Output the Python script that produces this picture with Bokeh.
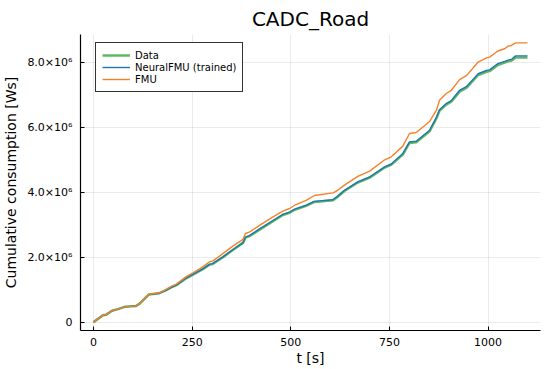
from bokeh.plotting import figure
from bokeh.models import Range1d, FixedTicker, CustomJSTickFormatter, Legend, LegendItem
from bokeh.embed import file_html
from bokeh.resources import INLINE

# time [s]
t = [0, 24, 32, 47, 62, 79, 108, 117, 140, 167, 183, 197, 210, 235, 252, 277, 294, 302,
     328, 353, 379, 385, 396, 421, 455, 480, 497, 510, 539, 560, 607, 619, 636, 670, 700,
     738, 755, 784, 801, 818, 852, 869, 877, 894, 907, 928, 946, 975, 996, 1004, 1025,
     1042, 1051, 1059, 1070, 1100]

# cumulative consumption in 1e6 Ws
fmu = [0, 0.21, 0.23, 0.35, 0.40, 0.47, 0.50, 0.575, 0.86, 0.90,
       1.00, 1.10, 1.17, 1.40, 1.52, 1.70, 1.86, 1.88, 2.11, 2.34,
       2.55, 2.73, 2.78, 2.98, 3.24, 3.42, 3.50, 3.60, 3.75, 3.90,
       3.98, 4.06, 4.22, 4.49, 4.65, 5.00, 5.09, 5.42, 5.81, 5.84,
       6.18, 6.52, 6.83, 7.04, 7.14, 7.47, 7.60, 8.01, 8.14, 8.16,
       8.35, 8.42, 8.50, 8.52, 8.60, 8.60]
neural = [0, 0.21, 0.23, 0.35, 0.40, 0.47, 0.50, 0.57, 0.85, 0.89,
          0.98, 1.07, 1.14, 1.36, 1.47, 1.64, 1.78, 1.80, 2.01, 2.23,
          2.45, 2.62, 2.67, 2.87, 3.13, 3.32, 3.39, 3.48, 3.60, 3.72,
          3.77, 3.88, 4.06, 4.32, 4.47, 4.78, 4.87, 5.19, 5.55, 5.57,
          5.91, 6.30, 6.54, 6.73, 6.82, 7.14, 7.26, 7.65, 7.75, 7.77,
          7.96, 8.03, 8.07, 8.09, 8.20, 8.20]
data = [0, 0.21, 0.23, 0.35, 0.40, 0.47, 0.50, 0.57, 0.85, 0.89,
        0.98, 1.07, 1.14, 1.35, 1.46, 1.63, 1.77, 1.79, 2.00, 2.22,
        2.44, 2.60, 2.65, 2.85, 3.11, 3.30, 3.37, 3.46, 3.58, 3.70,
        3.75, 3.86, 4.04, 4.30, 4.45, 4.76, 4.85, 5.16, 5.52, 5.54,
        5.88, 6.27, 6.51, 6.70, 6.79, 7.10, 7.22, 7.61, 7.71, 7.73,
        7.92, 7.99, 8.03, 8.05, 8.15, 8.15]

x_ticks = [0, 250, 500, 750, 1000]
y_ticks = [0, 2e6, 4e6, 6e6, 8e6]

scale = 1e6
fmu_w = [v * scale for v in fmu]
neural_w = [v * scale for v in neural]
data_w = [v * scale for v in data]

FONT = "DejaVu Sans"

p = figure(frame_width=460, frame_height=296, output_backend="svg", toolbar_location=None,
           x_range=Range1d(-33, 1133), y_range=Range1d(-0.258e6, 8.858e6),
           min_border_left=73, min_border_right=2, min_border_top=26, min_border_bottom=28)

p.title.text = "CADC_Road"
p.title.text_font = FONT
p.title.text_font_size = "20px"
p.title.text_font_style = "normal"
p.title.align = "center"
p.title.standoff = 8
p.title.text_color = "black"

p.background_fill_color = "white"
p.border_fill_color = "white"
p.outline_line_color = None

for ax in (p.xaxis[0], p.yaxis[0]):
    ax.axis_line_color = "black"
    ax.axis_line_width = 1.2
    ax.major_tick_in = 4
    ax.major_tick_out = 0
    ax.major_tick_line_color = "black"
    ax.minor_tick_line_color = None
    ax.major_label_text_font = FONT
    ax.major_label_text_font_size = "11px"
    ax.major_label_text_color = "black"
    ax.axis_label_text_font = FONT
    ax.axis_label_text_font_size = "14px"
    ax.axis_label_text_font_style = "normal"
    ax.axis_label_text_color = "black"

p.xaxis[0].ticker = FixedTicker(ticks=x_ticks)
p.yaxis[0].ticker = FixedTicker(ticks=y_ticks)
p.yaxis[0].formatter = CustomJSTickFormatter(code="""
if (tick == 0) { return '0'; }
return (tick / 1e6).toFixed(1) + '\u00d710\u2076';
""")
p.xaxis[0].axis_label = "t [s]"
p.yaxis[0].axis_label = "Cumulative consumption [Ws]"
p.xaxis[0].major_label_standoff = 7
p.xaxis[0].axis_label_standoff = 1
p.yaxis[0].major_label_standoff = 8
p.yaxis[0].axis_label_standoff = 5

for g in (p.xgrid[0], p.ygrid[0]):
    g.grid_line_color = "black"
    g.grid_line_alpha = 0.08
    g.grid_line_width = 1
p.xgrid[0].ticker = FixedTicker(ticks=x_ticks)
p.ygrid[0].ticker = FixedTicker(ticks=y_ticks)

r_data = p.line(t, data_w, line_color="#2ca02c", line_width=2.5, line_alpha=0.75)
r_nn = p.line(t, neural_w, line_color="#1f77b4", line_width=1.4)
r_fmu = p.line(t, fmu_w, line_color="#f5822a", line_width=1.4)

legend = Legend(items=[
    LegendItem(label="Data", renderers=[r_data]),
    LegendItem(label="NeuralFMU (trained)", renderers=[r_nn]),
    LegendItem(label="FMU", renderers=[r_fmu]),
], location=(15, 238))
legend.padding = 6
legend.spacing = 0
legend.label_height = 12
legend.glyph_height = 12
legend.glyph_width = 28
legend.label_standoff = 5
legend.label_text_font = FONT
legend.label_text_font_size = "10px"
legend.label_text_color = "black"
legend.label_text_line_height = 1.0
legend.border_line_color = "black"
legend.border_line_width = 1
legend.border_line_alpha = 0.8
legend.background_fill_color = "white"
legend.background_fill_alpha = 1
p.add_layout(legend)

open("out.html", "w").write(file_html(p, INLINE))
